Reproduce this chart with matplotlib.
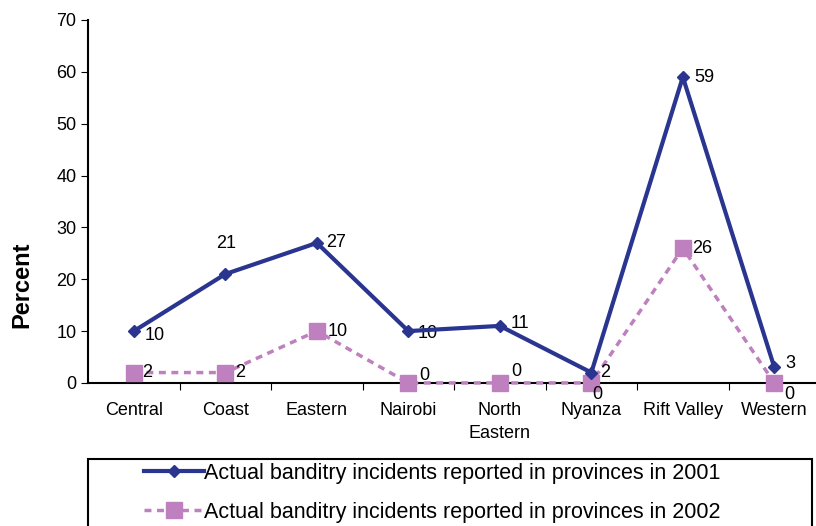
import matplotlib.pyplot as plt
from matplotlib.patches import Rectangle

plt.rcParams['font.family'] = ['Liberation Sans', 'DejaVu Sans']

provinces = ['Central', 'Coast', 'Eastern', 'Nairobi', 'North\nEastern',
             'Nyanza', 'Rift Valley', 'Western']
pct_2001 = [10, 21, 27, 10, 11, 2, 59, 3]
pct_2002 = [2, 2, 10, 0, 0, 0, 26, 0]

# label offsets in points (dx, dy) for each province
off_2001 = [(8, -3), (-7, 22), (7, 0), (7, -2), (8, 2), (6, 0), (8, 0), (8, 3)]
off_2002 = [(6, 0), (7, 0), (8, 0), (8, 5), (8, 8), (1, -8), (7, 0), (7, -8)]

blue = '#2a3590'
pink = '#bf80bf'

fig = plt.figure(figsize=(8.16, 5.26), dpi=100)
ax = fig.add_axes([0.108, 0.272, 0.897, 0.69])

x = list(range(len(provinces)))
ax.plot(x, pct_2001, color=blue, lw=3, marker='D', ms=6, clip_on=False, zorder=4,
        label='Actual banditry incidents reported in provinces in 2001')
ax.plot(x, pct_2002, color=pink, lw=2.5, ls=(0, (2, 1.6)), marker='s', ms=12,
        clip_on=False, zorder=3,
        label='Actual banditry incidents reported in provinces in 2002')

for i in x:
    ax.annotate(str(pct_2001[i]), (i, pct_2001[i]), xytext=off_2001[i],
                textcoords='offset points', fontsize=13, va='center', ha='left')
    ax.annotate(str(pct_2002[i]), (i, pct_2002[i]), xytext=off_2002[i],
                textcoords='offset points', fontsize=13, va='center', ha='left')

ax.set_xlim(-0.5, 7.5)
ax.set_ylim(0, 70)
ax.set_yticks(range(0, 71, 10))
ax.set_xticks([i + 0.5 for i in range(7)])
ax.set_xticklabels([])
ax.set_xticks(x, minor=True)
ax.set_xticklabels(provinces, minor=True, fontsize=13, linespacing=1.4)
ax.tick_params(axis='x', which='minor', length=0, pad=14)
ax.tick_params(axis='x', which='major', length=5, direction='out')
ax.tick_params(axis='y', labelsize=13, length=5)
for s in ['top', 'right']:
    ax.spines[s].set_visible(False)
ax.spines['left'].set_linewidth(1.5)
ax.spines['bottom'].set_linewidth(1.5)
ax.set_ylabel('Percent', fontsize=17, fontweight='bold')
ax.yaxis.set_label_coords(-0.075, 0.27)

fig.patches.append(Rectangle((0.108, -0.02), 0.887, 0.147, transform=fig.transFigure,
                             fill=False, edgecolor='black', lw=1.5))
fig.legend(loc='center', bbox_to_anchor=(0.53, 0.063), frameon=False, fontsize=15.5,
           handlelength=2.8, handletextpad=0.0, labelspacing=0.85)

fig.savefig('out.png', dpi=100)
